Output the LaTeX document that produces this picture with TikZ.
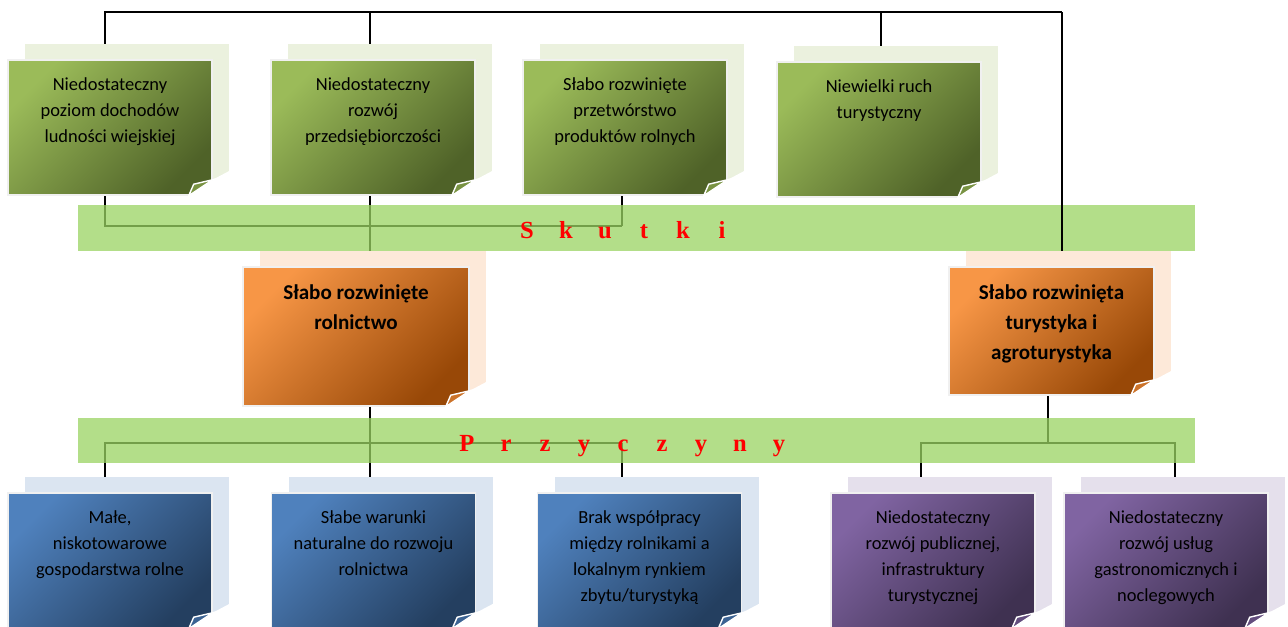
\documentclass[tikz,border=0pt]{standalone}
\usepackage{fontspec}
\newfontfamily\boxfont{Carlito}
\newfontfamily\bandfont{Liberation Serif}
\usetikzlibrary{calc,shadows,backgrounds}

\definecolor{grnA}{HTML}{9BBB59}
\definecolor{grnB}{HTML}{4F6228}
\definecolor{grnS}{HTML}{EBF1DE}
\definecolor{orgA}{HTML}{F79646}
\definecolor{orgB}{HTML}{984807}
\definecolor{orgS}{HTML}{FDE9D9}
\definecolor{bluA}{HTML}{4F81BD}
\definecolor{bluB}{HTML}{243F60}
\definecolor{bluS}{HTML}{DBE5F1}
\definecolor{purA}{HTML}{8064A2}
\definecolor{purB}{HTML}{3F3151}
\definecolor{purS}{HTML}{E5E0EC}
\definecolor{bandgreen}{RGB}{154,211,98}

\newcommand\pagefold[2]{%
  \fill[white] ([xshift=-4.8mm]#1.south east) -- ([yshift=3.2mm]#1.south east)
    -- ([xshift=3.4mm,yshift=5mm]#1.south east) -- ([xshift=4mm,yshift=5mm]#1.south east)
    -- ([xshift=4mm,yshift=-0.6mm]#1.south east) -- ([xshift=-4.8mm,yshift=-0.6mm]#1.south east) -- cycle;
  \filldraw[fill=#2, draw=white, line width=0.8pt] ([xshift=-4.8mm]#1.south east)
    .. controls ([xshift=-4.2mm,yshift=1.2mm]#1.south east) .. ([xshift=-3.8mm,yshift=2.3mm]#1.south east)
    -- ([yshift=3.2mm]#1.south east) -- cycle;}

\begin{document}
\begin{tikzpicture}[
  link/.style={line width=1.1pt},
  band/.style={fill=bandgreen, fill opacity=0.75},
  bandtext/.style={text=red, font=\bandfont\bfseries\fontsize{14}{16}\selectfont, inner sep=0pt, anchor=base},
  size/.style 2 args={minimum width=#1, minimum height=#2,
    execute at begin node={\begin{minipage}[c][#2][t]{#1}\centering\vspace*{0.36cm}}},
  note/.style n args={3}{draw=white!94!black, line width=0.8pt, inner sep=0pt,
    top color=#1, bottom color=#2, shading angle=45,
    drop shadow={shadow xshift=0.34cm, shadow yshift=0.32cm, fill=#3, opacity=1},
    font=\boxfont\fontsize{10.5}{14.7}\selectfont,
    execute at end node={\end{minipage}}},
  effect/.style={note={grnA}{grnB}{grnS}, size={4.08cm}{2.7cm}},
  problem/.style={note={orgA}{orgB}{orgS}, font=\boxfont\bfseries\fontsize{12}{17}\selectfont},
  cause/.style={note={bluA}{bluB}{bluS}, size={4.08cm}{2.7cm}},
  lack/.style={note={purA}{purB}{purS}, size={4.08cm}{2.7cm}}
]
  \useasboundingbox (0,0) rectangle (25.76,-12.52);

  \node[effect] (n1) at (2.2,-2.55) {Niedostateczny\\poziom dochodów\\ludności wiejskiej};
  \node[effect] (n2) at (7.46,-2.55) {Niedostateczny\\rozwój\\przedsiębiorczości};
  \node[effect] (n3) at (12.5,-2.55) {Słabo rozwinięte\\przetwórstwo\\produktów rolnych};
  \node[effect] (n4) at (17.58,-2.59) {Niewielki ruch\\turystyczny};
  \node[problem, size={4.52cm}{2.78cm}] (t1) at (7.12,-6.73) {Słabo rozwinięte\\rolnictwo};
  \node[problem, size={4.1cm}{2.56cm}] (t2) at (21.03,-6.62) {Słabo rozwinięta\\turystyka i\\agroturystyka};
  \node[cause] (b1) at (2.2,-11.21) {Małe,\\niskotowarowe\\gospodarstwa rolne};
  \node[cause] (b2) at (7.47,-11.21) {Słabe warunki\\naturalne do rozwoju\\rolnictwa};
  \node[cause] (b3) at (12.79,-11.21) {Brak współpracy\\między rolnikami a\\lokalnym rynkiem\\zbytu/turystyką};
  \node[lack] (p1) at (18.66,-11.21) {Niedostateczny\\rozwój publicznej,\\infrastruktury\\turystycznej};
  \node[lack] (p2) at (23.32,-11.21) {Niedostateczny\\rozwój usług\\gastronomicznych i\\noclegowych};

  \pagefold{n1}{grnA!55!grnB}
  \pagefold{n2}{grnA!55!grnB}
  \pagefold{n3}{grnA!55!grnB}
  \pagefold{n4}{grnA!55!grnB}
  \pagefold{t1}{orgA!55!orgB}
  \pagefold{t2}{orgA!55!orgB}
  \pagefold{b1}{bluA!55!bluB}
  \pagefold{b2}{bluA!55!bluB}
  \pagefold{b3}{bluA!55!bluB}
  \pagefold{p1}{purA!55!purB}
  \pagefold{p2}{purA!55!purB}

  \node[bandtext] (sk) at (12.49,-4.76) {\foreach \c in {S,k,u,t,k,i}{\makebox[0.78cm]{\c}}};
  \node[bandtext] (pr) at (12.46,-9.02) {\foreach \c in {P,r,z,y,c,z,y,n,y}{\makebox[0.78cm]{\c}}};

  \coordinate (topR) at (21.24,-0.24);
  \coordinate (skJ) at (12.44,-4.52);
  \coordinate (prJ) at (12.44,-8.86);
  \coordinate (prK) at (20.96,-8.86);

  \begin{pgfonlayer}{background}
    \fill[white] (0,0) rectangle (25.76,-12.52);
    \draw[link] ([xshift=-1mm]n1.north) |- (topR);
    \draw[link] ([xshift=-0.6mm]n2.north) |- (topR);
    \draw[link] ([xshift=0.4mm]n4.north) |- (topR);
    \draw[link] ([xshift=-1mm]n1.south) |- (skJ);
    \draw[link] (n3.south -| skJ) -- (skJ);
    \draw[link] ([xshift=-0.6mm]n2.south) -- ([xshift=-0.6mm]n2.south |- t1.north);
    \draw[link] ([xshift=2.8mm]t1.south) -- ([xshift=2.8mm]t1.south |- b2.north);
    \draw[link] ([xshift=-1mm]b1.north) |- (prJ);
    \draw[link] (prJ) -- (prJ |- b3.north);
    \draw[link] (t2.south -| prK) -- (prK);
    \draw[link] ([xshift=-2.4mm]p1.north) |- (prK) -| ([xshift=1.8mm]p2.north);
    \fill[band] (1.56,-4.1) rectangle (23.9,-5.02);
    \fill[band] (1.56,-8.36) rectangle (23.9,-9.26);
    \draw[link] (topR) -- (topR |- t2.north);
  \end{pgfonlayer}
\end{tikzpicture}
\end{document}
